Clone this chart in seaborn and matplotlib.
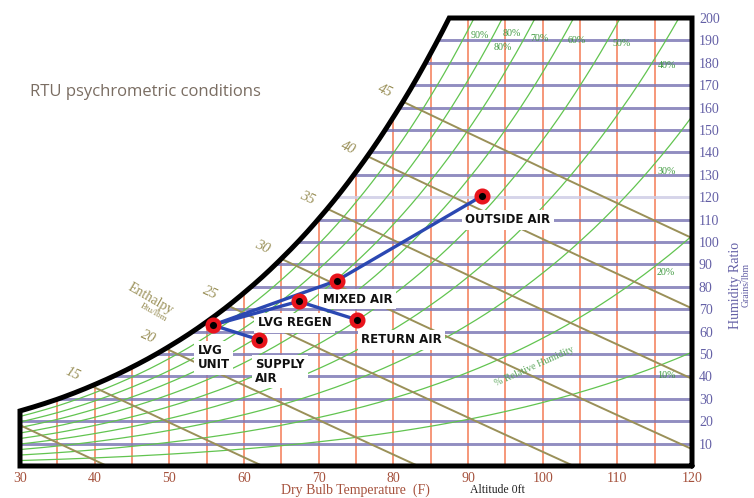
import numpy as np
import pandas as pd
import matplotlib
matplotlib.use("Agg")
import matplotlib.pyplot as plt
import seaborn as sns

# ---------------- data ----------------
# saturation vapour pressure of water (psia) vs dry bulb (F)
SAT_T = [30, 35, 40, 45, 50, 55, 60, 65, 70, 75, 80, 85, 90, 95, 100, 105, 110, 115, 120]
SAT_P = [0.0825, 0.0999, 0.1217, 0.1475, 0.1781, 0.2141, 0.2564, 0.3058, 0.3633, 0.4302,
         0.5075, 0.5966, 0.6990, 0.8164, 0.9505, 1.1032, 1.2767, 1.4729, 1.6951]
DRY_BULB_TICKS = [30, 40, 50, 60, 70, 80, 90, 100, 110, 120]
DRY_BULB_LINES = [35, 40, 45, 50, 55, 60, 65, 70, 75, 80, 85, 90, 95, 100, 105, 110, 115]
HUMIDITY_TICKS = [10, 20, 30, 40, 50, 60, 70, 80, 90, 100, 110, 120, 130, 140, 150, 160, 170, 180, 190, 200]
RH_LEVELS = [10, 20, 30, 40, 50, 60, 70, 80, 90]
ENTHALPY_LEVELS = [10, 15, 20, 25, 30, 35, 40, 45]
ENTHALPY_LABELS = ["15", "20", "25", "30", "35", "40", "45"]

STATE_NAMES = ["OUTSIDE AIR", "MIXED AIR", "LVG REGEN", "RETURN AIR", "LVG UNIT", "SUPPLY AIR"]
STATE_T = [91.9, 72.4, 67.3, 75.1, 55.8, 62.0]
STATE_W = [120.6, 82.7, 73.5, 65.3, 62.9, 56.4]
PROCESS_PATHS = [("LVG UNIT", "MIXED AIR"), ("MIXED AIR", "OUTSIDE AIR"),
                 ("LVG UNIT", "LVG REGEN"), ("LVG REGEN", "RETURN AIR"),
                 ("LVG UNIT", "SUPPLY AIR")]

P_ATM = 14.696
W_TOP = 200
T_MIN, T_MAX = 30, 120

# ---------------- helpers ----------------
Tf = np.arange(T_MIN, T_MAX + 0.001, 0.1)
Pf = np.exp(np.interp(Tf, SAT_T, np.log(SAT_P)))


def grains(p):
    return 7000 * 0.622 * p / (P_ATM - p)


Wsat = grains(Pf)


def t_sat(w):
    return np.interp(w, Wsat, Tf)


T_TOP = t_sat(W_TOP)

# ---------------- figure ----------------
sns.set_style("white")
plt.rcParams["font.family"] = ["DejaVu Sans"]
fig = plt.figure(figsize=(7.54, 4.98), dpi=100)
ax = fig.add_axes([20 / 754, 32 / 498, 672 / 754, 448 / 498])
ax.set_xlim(T_MIN, T_MAX)
ax.set_ylim(0, W_TOP)
for s in ax.spines.values():
    s.set_visible(False)

SERIF = ["Liberation Serif", "DejaVu Serif"]
GREEN = "#62c450"
RED = "#f4825f"
BLUE = "#7e7ab6"
OLIVE = "#9a9058"

# relative humidity curves
for rh in RH_LEVELS:
    w = grains(rh / 100 * Pf)
    m = w <= W_TOP
    ax.plot(Tf[m], w[m], color=GREEN, lw=0.9, zorder=2)

# dry bulb verticals
for t in DRY_BULB_LINES:
    top = min(np.interp(t, Tf, Wsat), W_TOP)
    ax.plot([t, t], [0, top], color=RED, lw=1.3, alpha=0.9, zorder=1)

# humidity ratio horizontals
for w in HUMIDITY_TICKS[:-1]:
    c = "#cfcde6" if w == 120 else BLUE
    ax.plot([max(t_sat(w), T_MIN), T_MAX], [w, w], color=c, lw=2.1, alpha=0.85, zorder=1)

# enthalpy lines
for h in ENTHALPY_LEVELS:
    w = 7000 * (h - 0.24 * Tf) / (1061 + 0.444 * Tf)
    m = (w >= 0) & (w <= Wsat)
    ax.plot(Tf[m], w[m], color=OLIVE, lw=1.4, zorder=2)

# enthalpy labels
lab_pos = [(37.0, 40.9), (47.1, 57.8), (55.4, 77.3), (62.5, 97.8), (68.4, 119.6), (73.9, 142.2), (78.9, 167.6)]
for (t, w), s in zip(lab_pos, ENTHALPY_LABELS):
    ax.text(t, w, s, color=OLIVE, fontsize=10.5, family=SERIF, style="italic",
            rotation=-25, ha="center", va="center")
ax.text(47.5, 74.5, "Enthalpy", color=OLIVE, fontsize=10, family=SERIF, rotation=-30,
        ha="center", va="center")
ax.text(47.9, 68.3, "Btu/lbm", color=OLIVE, fontsize=6.5, family=SERIF, rotation=-30,
        ha="center", va="center")

# RH labels
rh_lab = [("90%", 91.6, 192), ("80%", 95.9, 193.3), ("80%", 94.7, 186.7), ("70%", 99.6, 190.7),
          ("60%", 104.6, 189.8), ("50%", 110.6, 188.4), ("40%", 116.6, 178.7),
          ("30%", 116.6, 131.6), ("20%", 116.5, 86.2), ("10%", 116.6, 40.4)]
for s, t, w in rh_lab:
    ax.text(t, w, s, color="#3f9a3f", fontsize=7.2, family=SERIF, ha="center", va="center", zorder=3)
ax.text(98.9, 44.4, "% Relative Humidity", color="#5aa55a", fontsize=7.2, family=SERIF,
        rotation=24, ha="center", va="center", zorder=3)

# boundary (saturation curve + frame)
m = Tf <= T_TOP
bx = np.concatenate([[T_MAX, T_MIN, T_MIN], Tf[m], [T_TOP, T_MAX, T_MAX]])
by = np.concatenate([[0, 0, Wsat[0]], Wsat[m], [W_TOP, W_TOP, 0]])
ax.plot(bx, by, color="black", lw=3.6, solid_joinstyle="miter", clip_on=False, zorder=6)

# process lines and state points
states = pd.DataFrame({"name": STATE_NAMES, "T": STATE_T, "W": STATE_W}).set_index("name")
for a, b in PROCESS_PATHS:
    seg = states.loc[[a, b]].reset_index()
    sns.lineplot(data=seg, x="T", y="W", sort=False, color="#2b48b2", lw=2.4, ax=ax, zorder=7)
sns.scatterplot(data=states.reset_index(), x="T", y="W", s=70, color="black",
                edgecolor="#e8141c", linewidth=3.2, ax=ax, zorder=8, legend=False)

bb = dict(facecolor="white", edgecolor="none", pad=2.5)
lab_kw = dict(fontsize=8.5, fontweight="bold", color="#111111", zorder=5, bbox=bb)
ax.text(95.3, 110, "OUTSIDE AIR", ha="center", va="center", **lab_kw)
ax.text(75.2, 74.4, "MIXED AIR", ha="center", va="center", **lab_kw)
ax.text(66.8, 64.0, "LVG REGEN", ha="center", va="center", **lab_kw)
ax.text(81.1, 56.4, "RETURN AIR", ha="center", va="center", **lab_kw)
ax.text(53.8, 48.4, "LVG\nUNIT", ha="left", va="center", linespacing=1.1, **lab_kw)
ax.text(61.5, 42.2, "SUPPLY\nAIR", ha="left", va="center", linespacing=1.1, **lab_kw)

# ticks
ax.set_xticks(DRY_BULB_TICKS)
ax.set_xticklabels([str(v) for v in DRY_BULB_TICKS], family=SERIF, fontsize=10, color="#a5513c")
ax.yaxis.tick_right()
ax.set_yticks(HUMIDITY_TICKS)
ax.set_yticklabels([str(v) for v in HUMIDITY_TICKS], family=SERIF, fontsize=10, color="#6460a6")
ax.tick_params(axis="x", length=0, pad=4)
ax.tick_params(axis="y", length=0, pad=5)
ax.set_xlabel("")
ax.set_ylabel("")

fig.text(355 / 754, 1 - 490 / 498, "Dry Bulb Temperature  (F)", family=SERIF, fontsize=10,
         color="#a5513c", ha="center", va="center")
fig.text(497 / 754, 1 - 490 / 498, "Altitude 0ft", family=SERIF, fontsize=8.5,
         color="#222222", ha="center", va="center")
fig.text(735 / 754, 1 - 285 / 498, "Humidity Ratio", family=SERIF, fontsize=10,
         color="#6460a6", rotation=90, ha="center", va="center")
fig.text(746 / 754, 1 - 285 / 498, "Grains/lbm", family=SERIF, fontsize=7,
         color="#6460a6", rotation=90, ha="center", va="center")

fig.text(30 / 754, 1 - 92 / 498, "RTU psychrometric conditions", family=["Open Sans", "DejaVu Sans"],
         fontsize=12, color="#7a6d62", ha="left", va="center")

fig.savefig("out.png", dpi=100)
